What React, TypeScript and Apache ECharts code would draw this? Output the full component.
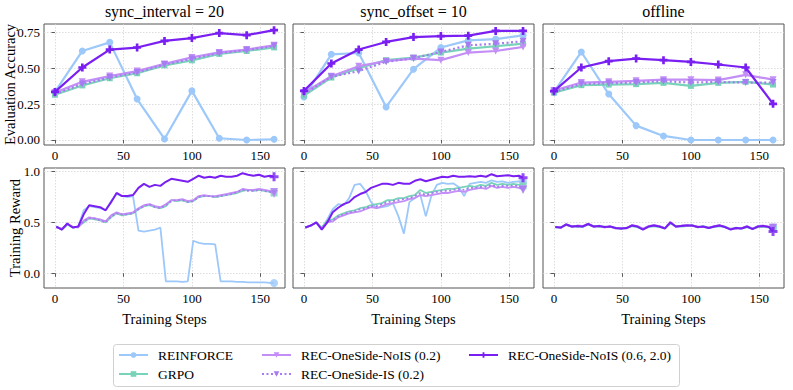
import React, { useEffect, useRef } from 'react';
import * as echarts from 'echarts';

const FONT = "'Liberation Serif', 'Times New Roman', Times, serif";

// ---------- labels ----------
const PANEL_TITLES = ['sync_interval = 20', 'sync_offset = 10', 'offline'];
const SERIES_NAMES = [
  'REINFORCE',
  'GRPO',
  'REC-OneSide-NoIS (0.2)',
  'REC-OneSide-IS (0.2)',
  'REC-OneSide-NoIS (0.6, 2.0)',
];
const X_TICKS = [0, 50, 100, 150];
const EVAL_Y_TICKS = [0, 0.25, 0.5, 0.75];
const REWARD_Y_TICKS = [0, 0.5, 1.0];

// ---------- evaluation accuracy (top row) ----------
const EVAL_STEPS = [0, 20, 40, 60, 80, 100, 120, 140, 160];

const EV1_REINFORCE = [0.335, 0.62, 0.68, 0.285, 0.007, 0.342, 0.012, 0.0, 0.005];
const EV1_GRPO = [0.315, 0.38, 0.43, 0.465, 0.52, 0.555, 0.6, 0.62, 0.645];
const EV1_NOIS = [0.33, 0.405, 0.445, 0.48, 0.53, 0.575, 0.61, 0.63, 0.66];
const EV1_IS = [0.32, 0.39, 0.435, 0.47, 0.525, 0.565, 0.605, 0.625, 0.655];
const EV1_WIDE = [0.335, 0.505, 0.63, 0.644, 0.69, 0.71, 0.745, 0.73, 0.765];

const EV2_REINFORCE = [0.3, 0.597, 0.606, 0.23, 0.493, 0.644, 0.694, 0.703, 0.729];
const EV2_GRPO = [0.31, 0.435, 0.5, 0.556, 0.574, 0.609, 0.637, 0.653, 0.671];
const EV2_NOIS = [0.33, 0.444, 0.514, 0.549, 0.567, 0.556, 0.609, 0.62, 0.648];
const EV2_IS = [0.32, 0.44, 0.48, 0.545, 0.57, 0.613, 0.66, 0.67, 0.688];
const EV2_WIDE = [0.342, 0.533, 0.63, 0.683, 0.717, 0.724, 0.727, 0.76, 0.76];

const EV3_REINFORCE = [0.335, 0.613, 0.32, 0.1, 0.028, 0.0, 0.0, 0.0, 0.0];
const EV3_GRPO = [0.33, 0.382, 0.386, 0.389, 0.398, 0.377, 0.398, 0.405, 0.386];
const EV3_NOIS = [0.345, 0.4, 0.405, 0.412, 0.42, 0.42, 0.417, 0.454, 0.42];
const EV3_IS = [0.335, 0.39, 0.395, 0.4, 0.41, 0.4, 0.405, 0.4, 0.4];
const EV3_WIDE = [0.34, 0.505, 0.549, 0.567, 0.556, 0.544, 0.526, 0.505, 0.252];

// ---------- training reward (bottom row) ----------
const TRAIN_STEPS = [1, 5, 9, 13, 17, 21, 25, 29, 33, 37, 41, 45, 49, 53, 57, 61, 65, 69, 73, 77, 81, 85, 89, 93, 97, 101, 105, 109, 113, 117, 121, 125, 129, 133, 137, 141, 145, 149, 153, 157, 160];

const TR1_REINFORCE = [0.46, 0.43, 0.48, 0.45, 0.46, 0.62, 0.66, 0.65, 0.64, 0.62, 0.71, 0.78, 0.76, 0.75, 0.76, 0.42, 0.41, 0.42, 0.43, 0.45, -0.08, -0.08, -0.08, -0.085, -0.08, 0.32, 0.3, 0.29, 0.29, 0.285, -0.08, -0.08, -0.08, -0.085, -0.085, -0.09, -0.09, -0.09, -0.09, -0.095, -0.095];
const TR1_GRPO = [0.46, 0.43, 0.48, 0.45, 0.46, 0.5, 0.54, 0.53, 0.52, 0.5, 0.55, 0.59, 0.57, 0.58, 0.59, 0.63, 0.66, 0.67, 0.65, 0.64, 0.66, 0.72, 0.71, 0.72, 0.7, 0.71, 0.75, 0.76, 0.76, 0.75, 0.76, 0.77, 0.78, 0.79, 0.81, 0.82, 0.81, 0.82, 0.81, 0.8, 0.79];
const TR1_NOIS = [0.45, 0.44, 0.48, 0.46, 0.45, 0.52, 0.55, 0.54, 0.53, 0.51, 0.57, 0.6, 0.58, 0.59, 0.6, 0.64, 0.67, 0.68, 0.66, 0.65, 0.68, 0.72, 0.72, 0.73, 0.71, 0.72, 0.76, 0.77, 0.76, 0.76, 0.77, 0.78, 0.79, 0.8, 0.83, 0.82, 0.82, 0.83, 0.82, 0.81, 0.78];
const TR1_IS = [0.46, 0.43, 0.49, 0.45, 0.46, 0.51, 0.54, 0.54, 0.52, 0.5, 0.56, 0.59, 0.58, 0.58, 0.59, 0.63, 0.66, 0.68, 0.65, 0.64, 0.67, 0.71, 0.72, 0.72, 0.7, 0.71, 0.75, 0.76, 0.76, 0.75, 0.76, 0.77, 0.78, 0.8, 0.82, 0.81, 0.81, 0.82, 0.81, 0.8, 0.8];
const TR1_WIDE = [0.46, 0.43, 0.49, 0.45, 0.46, 0.58, 0.67, 0.66, 0.65, 0.62, 0.7, 0.79, 0.76, 0.76, 0.77, 0.84, 0.88, 0.85, 0.87, 0.86, 0.9, 0.93, 0.92, 0.91, 0.9, 0.93, 0.96, 0.94, 0.95, 0.94, 0.96, 0.95, 0.95, 0.96, 0.985, 0.97, 0.96, 0.97, 0.95, 0.96, 0.95];

const TR2_REINFORCE = [0.45, 0.47, 0.5, 0.44, 0.53, 0.63, 0.68, 0.67, 0.74, 0.87, 0.88, 0.81, 0.7, 0.64, 0.65, 0.66, 0.69, 0.56, 0.39, 0.7, 0.74, 0.77, 0.56, 0.76, 0.87, 0.89, 0.88, 0.885, 0.85, 0.76, 0.88, 0.89, 0.9, 0.89, 0.915, 0.9, 0.905, 0.89, 0.9, 0.905, 0.9];
const TR2_GRPO = [0.45, 0.47, 0.5, 0.45, 0.52, 0.53, 0.57, 0.59, 0.61, 0.62, 0.64, 0.65, 0.67, 0.68, 0.69, 0.72, 0.72, 0.74, 0.74, 0.76, 0.77, 0.82, 0.79, 0.8, 0.81, 0.82, 0.83, 0.83, 0.84, 0.85, 0.86, 0.85, 0.87, 0.86, 0.89, 0.87, 0.88, 0.87, 0.88, 0.87, 0.86];
const TR2_NOIS = [0.45, 0.47, 0.5, 0.44, 0.5, 0.51, 0.55, 0.57, 0.59, 0.6, 0.61, 0.63, 0.65, 0.64, 0.66, 0.68, 0.69, 0.7, 0.71, 0.73, 0.74, 0.77, 0.76, 0.77, 0.78, 0.79, 0.79, 0.8, 0.81, 0.8, 0.82, 0.83, 0.84, 0.83, 0.86, 0.84, 0.85, 0.84, 0.85, 0.84, 0.83];
const TR2_IS = [0.45, 0.47, 0.5, 0.44, 0.51, 0.52, 0.56, 0.58, 0.6, 0.61, 0.63, 0.64, 0.66, 0.66, 0.68, 0.7, 0.71, 0.72, 0.73, 0.74, 0.76, 0.79, 0.77, 0.79, 0.8, 0.81, 0.81, 0.82, 0.83, 0.82, 0.84, 0.84, 0.85, 0.85, 0.87, 0.85, 0.86, 0.86, 0.86, 0.86, 0.82];
const TR2_WIDE = [0.45, 0.47, 0.5, 0.43, 0.5, 0.6, 0.645, 0.68, 0.7, 0.75, 0.78, 0.8, 0.84, 0.86, 0.88, 0.88, 0.87, 0.89, 0.88, 0.88, 0.91, 0.925, 0.905, 0.92, 0.935, 0.95, 0.945, 0.96, 0.95, 0.95, 0.955, 0.95, 0.96, 0.95, 0.975, 0.955, 0.96, 0.965, 0.955, 0.96, 0.94];

const TR3_REINFORCE = [0.455, 0.45, 0.475, 0.46, 0.46, 0.46, 0.48, 0.465, 0.46, 0.455, 0.46, 0.445, 0.44, 0.445, 0.465, 0.455, 0.435, 0.46, 0.465, 0.46, 0.445, 0.49, 0.46, 0.465, 0.465, 0.47, 0.455, 0.46, 0.445, 0.46, 0.465, 0.455, 0.435, 0.445, 0.44, 0.455, 0.44, 0.455, 0.46, 0.455, 0.45];
const TR3_GRPO = [0.45, 0.455, 0.475, 0.465, 0.46, 0.455, 0.48, 0.465, 0.46, 0.46, 0.455, 0.45, 0.435, 0.45, 0.465, 0.455, 0.435, 0.455, 0.465, 0.455, 0.445, 0.495, 0.465, 0.46, 0.465, 0.475, 0.45, 0.465, 0.45, 0.455, 0.465, 0.46, 0.435, 0.45, 0.445, 0.455, 0.44, 0.455, 0.46, 0.45, 0.44];
const TR3_NOIS = [0.46, 0.445, 0.485, 0.455, 0.47, 0.465, 0.49, 0.455, 0.47, 0.45, 0.465, 0.44, 0.445, 0.44, 0.475, 0.465, 0.44, 0.465, 0.475, 0.465, 0.445, 0.505, 0.455, 0.47, 0.475, 0.465, 0.46, 0.455, 0.45, 0.465, 0.475, 0.45, 0.44, 0.44, 0.445, 0.465, 0.44, 0.465, 0.47, 0.46, 0.45];
const TR3_IS = [0.455, 0.45, 0.48, 0.46, 0.46, 0.46, 0.48, 0.46, 0.465, 0.455, 0.46, 0.445, 0.44, 0.445, 0.47, 0.46, 0.435, 0.46, 0.47, 0.46, 0.445, 0.5, 0.46, 0.465, 0.47, 0.47, 0.455, 0.46, 0.445, 0.46, 0.47, 0.455, 0.435, 0.445, 0.44, 0.46, 0.44, 0.46, 0.465, 0.455, 0.445];
const TR3_WIDE = [0.455, 0.45, 0.48, 0.46, 0.465, 0.46, 0.485, 0.46, 0.465, 0.455, 0.46, 0.445, 0.44, 0.445, 0.47, 0.46, 0.43, 0.46, 0.47, 0.46, 0.44, 0.5, 0.46, 0.465, 0.47, 0.47, 0.455, 0.46, 0.445, 0.46, 0.47, 0.455, 0.43, 0.445, 0.44, 0.46, 0.435, 0.46, 0.465, 0.455, 0.41];

const EVAL_DATA = [
  [EV1_REINFORCE, EV1_GRPO, EV1_NOIS, EV1_IS, EV1_WIDE],
  [EV2_REINFORCE, EV2_GRPO, EV2_NOIS, EV2_IS, EV2_WIDE],
  [EV3_REINFORCE, EV3_GRPO, EV3_NOIS, EV3_IS, EV3_WIDE],
];
const TRAIN_DATA = [
  [TR1_REINFORCE, TR1_GRPO, TR1_NOIS, TR1_IS, TR1_WIDE],
  [TR2_REINFORCE, TR2_GRPO, TR2_NOIS, TR2_IS, TR2_WIDE],
  [TR3_REINFORCE, TR3_GRPO, TR3_NOIS, TR3_IS, TR3_WIDE],
];

// ---------- styles ----------
const PLUS = 'path://M-1,-3H1V-1H3V1H1V3H-1V1H-3V-1H-1Z';
const STYLES = [
  { color: '#9cc8fa', symbol: 'circle', size: 7, rotate: 0, type: 'solid' as any },
  { color: '#78d3b9', symbol: 'rect', size: 6, rotate: 0, type: 'solid' as any },
  { color: '#c38ef5', symbol: 'triangle', size: 7, rotate: 180, type: 'solid' as any },
  { color: '#a77cf3', symbol: 'triangle', size: 7, rotate: 180, type: [2, 2.5] as any },
  { color: '#7a1ff2', symbol: PLUS, size: 8, rotate: 0, type: 'solid' as any },
];

const LEFTS = [44, 293, 543];
const PANEL_W = 241;
const TOP_Y = 24;
const TOP_H = 121;
const BOT_Y = 168;
const BOT_H = 120;

function buildOption() {
  const grid: any[] = [];
  const xAxis: any[] = [];
  const yAxis: any[] = [];
  const series: any[] = [];

  const axisCommon = {
    axisLine: { show: false },
    axisTick: { show: true, length: 3.5, inside: false, lineStyle: { color: '#333', width: 0.8 } },
    splitLine: { show: true, lineStyle: { color: '#d4d4d4', type: [1.5, 1.5], width: 0.8 } },
  };

  for (let row = 0; row < 2; row++) {
    for (let p = 0; p < 3; p++) {
      const idx = row * 3 + p;
      grid.push({
        left: LEFTS[p],
        top: row === 0 ? TOP_Y : BOT_Y,
        width: PANEL_W,
        height: row === 0 ? TOP_H : BOT_H,
        show: true,
        borderColor: '#555',
        borderWidth: 1,
        containLabel: false,
      });
      xAxis.push({
        type: 'value',
        gridIndex: idx,
        min: -8,
        max: 168,
        ...axisCommon,
        axisTick: { ...axisCommon.axisTick, customValues: X_TICKS },
        axisLabel: {
          show: true,
          customValues: X_TICKS,
          margin: 4,
          fontFamily: FONT,
          fontSize: 13,
          color: '#000',
        },
      });
      const yTicks = row === 0 ? EVAL_Y_TICKS : REWARD_Y_TICKS;
      yAxis.push({
        type: 'value',
        gridIndex: idx,
        min: row === 0 ? -0.035 : -0.145,
        max: row === 0 ? 0.808 : 1.036,
        ...axisCommon,
        axisTick: { ...axisCommon.axisTick, customValues: yTicks },
        axisLabel: {
          show: p === 0,
          customValues: yTicks,
          margin: 4,
          fontFamily: FONT,
          fontSize: 13,
          color: '#000',
          formatter: (v: number) => (row === 0 ? v.toFixed(2) : v.toFixed(1)),
        },
      });
    }
  }

  // top row: lines with markers at every point
  for (let p = 0; p < 3; p++) {
    for (let k = 0; k < 5; k++) {
      const st = STYLES[k];
      series.push({
        type: 'line',
        name: SERIES_NAMES[k],
        xAxisIndex: p,
        yAxisIndex: p,
        data: EVAL_STEPS.map((s, i) => [s, EVAL_DATA[p][k][i]]),
        symbol: st.symbol,
        symbolSize: st.size,
        symbolRotate: st.rotate,
        showSymbol: true,
        lineStyle: { color: st.color, width: 2.2, type: st.type },
        itemStyle: { color: st.color, borderWidth: 0 },
        emphasis: { disabled: true },
        silent: true,
        z: 2 + k,
      });
    }
  }

  // bottom row: lines without markers, marker at final point
  for (let p = 0; p < 3; p++) {
    for (let k = 0; k < 5; k++) {
      const st = STYLES[k];
      const vals = TRAIN_DATA[p][k];
      series.push({
        type: 'line',
        name: SERIES_NAMES[k],
        xAxisIndex: 3 + p,
        yAxisIndex: 3 + p,
        data: TRAIN_STEPS.map((s, i) => [s, vals[i]]),
        symbol: 'none',
        showSymbol: false,
        lineStyle: { color: st.color, width: k === 4 ? 2 : 1.8, type: st.type },
        itemStyle: { color: st.color },
        emphasis: { disabled: true },
        silent: true,
        z: 2 + k,
      });
      series.push({
        type: 'scatter',
        name: SERIES_NAMES[k] + ' end',
        xAxisIndex: 3 + p,
        yAxisIndex: 3 + p,
        data: [[TRAIN_STEPS[TRAIN_STEPS.length - 1], vals[vals.length - 1]]],
        symbol: st.symbol,
        symbolSize: st.size + 1,
        symbolRotate: st.rotate,
        itemStyle: { color: st.color },
        emphasis: { disabled: true },
        silent: true,
        z: 2 + k,
      });
    }
  }

  const legendText = {
    fontFamily: FONT,
    fontSize: 13.5,
    color: '#000',
    padding: [0, 0, 0, 5],
  };
  const legendCommon = {
    orient: 'vertical',
    top: 348,
    itemWidth: 29,
    itemHeight: 7,
    itemGap: 5,
    padding: 0,
    selectedMode: false,
    textStyle: legendText,
  };
  const legend = [
    { ...legendCommon, left: 118, data: [SERIES_NAMES[0], SERIES_NAMES[1]] },
    { ...legendCommon, left: 261, data: [SERIES_NAMES[2], SERIES_NAMES[3]] },
    { ...legendCommon, left: 468, data: [SERIES_NAMES[4]] },
  ];

  const graphic: any[] = [];
  for (let p = 0; p < 3; p++) {
    const cx = LEFTS[p] + PANEL_W / 2;
    graphic.push({
      type: 'text',
      x: cx,
      y: 11,
      style: {
        text: PANEL_TITLES[p],
        fontFamily: FONT,
        fontSize: 16,
        fill: '#000',
        align: 'center',
        verticalAlign: 'middle',
      },
    });
    graphic.push({
      type: 'text',
      x: cx,
      y: 319,
      style: {
        text: 'Training Steps',
        fontFamily: FONT,
        fontSize: 14.5,
        fill: '#000',
        align: 'center',
        verticalAlign: 'middle',
      },
    });
  }
  graphic.push({
    type: 'text',
    x: 9.5,
    y: TOP_Y + TOP_H / 2,
    rotation: Math.PI / 2,
    style: {
      text: 'Evaluation Accuracy',
      fontFamily: FONT,
      fontSize: 14.5,
      fill: '#000',
      align: 'center',
      verticalAlign: 'middle',
    },
  });
  graphic.push({
    type: 'text',
    x: 14.5,
    y: BOT_Y + BOT_H / 2,
    rotation: Math.PI / 2,
    style: {
      text: 'Training Reward',
      fontFamily: FONT,
      fontSize: 14.5,
      fill: '#000',
      align: 'center',
      verticalAlign: 'middle',
    },
  });
  graphic.push({
    type: 'rect',
    shape: { x: 113.5, y: 344.5, width: 566, height: 42, r: 3 },
    style: { fill: 'rgba(255,255,255,0.8)', stroke: '#d0d0d0', lineWidth: 1 },
    z: -1,
  });

  return {
    animation: false,
    backgroundColor: '#fff',
    grid,
    xAxis,
    yAxis,
    series,
    legend,
    graphic,
  };
}

export default function App() {
  const ref = useRef<HTMLDivElement>(null);
  useEffect(() => {
    const chart = echarts.init(ref.current!, null, { renderer: 'svg' });
    chart.setOption(buildOption() as any);
    return () => chart.dispose();
  }, []);
  return (
    <div
      ref={ref}
      style={{ position: 'fixed', left: 0, top: 0, width: 793, height: 390 }}
    />
  );
}
